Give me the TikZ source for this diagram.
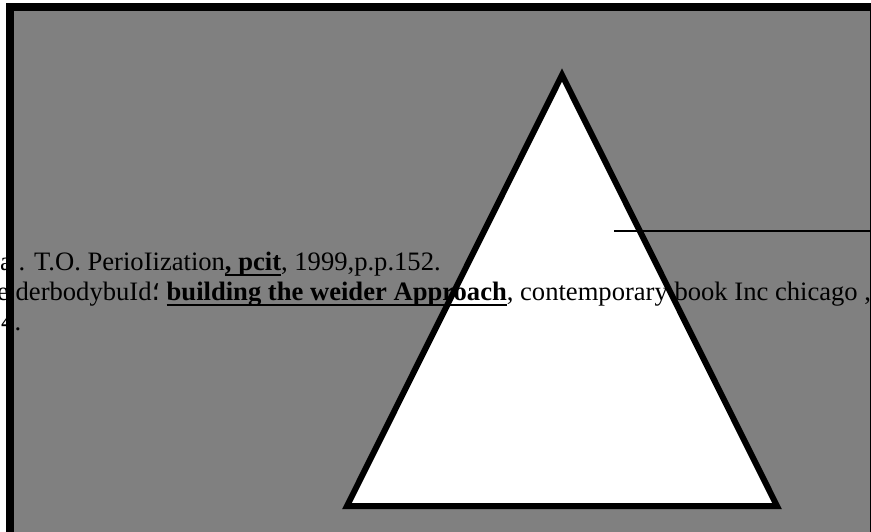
\documentclass[tikz,border=0pt]{standalone}
\usepackage{fontspec}
\setmainfont{Liberation Serif}
\newfontfamily\arabicfont[Script=Arabic]{DejaVu Sans}
\usepackage{tikz}
\usetikzlibrary{positioning}
\newcommand\refuline[1]{\setbox0\hbox{#1}\makebox[0pt][l]{\vrule height -4pt depth 6pt width \wd0}\box0}

\begin{document}
\begin{tikzpicture}[x=1pt, y=-1pt,
  every node/.style={font=\fontsize{26.6}{30}\selectfont, inner sep=0pt, anchor=base west},
  frame/.style={fill=black},
  sheet/.style={fill=gray},
  peak/.style={draw=black, line width=6pt, fill=white, line join=miter, miter limit=10},
  rule/.style={draw=black, line width=1.5pt}]
\useasboundingbox (0,0) rectangle (871,531);
\fill[white] (0,0) rectangle (871,531);
\fill[frame] (6,3) rectangle (880,540);
\fill[sheet] (14,11) rectangle (870,540);
% triangle
\draw[peak] (562,75) coordinate (apex) -- (347,506) coordinate (baseL) -- (777,506) coordinate (baseR) -- cycle;
% reference lines
\node (ref1) at (0,270) {a . T.O. PerioIization\textbf{\refuline{, pcit}}, 1999,p.p.152.};
\node (ref2) at (-3,300) {e derbodybuId{\arabicfont ؛} \textbf{\refuline{building the weider Approach}}, contemporary book Inc chicago ,};
\node (ref3) at (1,330) {4.};
% short rule on the right
\coordinate (ruleA) at (614,231);
\coordinate (ruleB) at (871,231);
\draw[rule] (ruleA) -- (ruleB);
\end{tikzpicture}
\end{document}
